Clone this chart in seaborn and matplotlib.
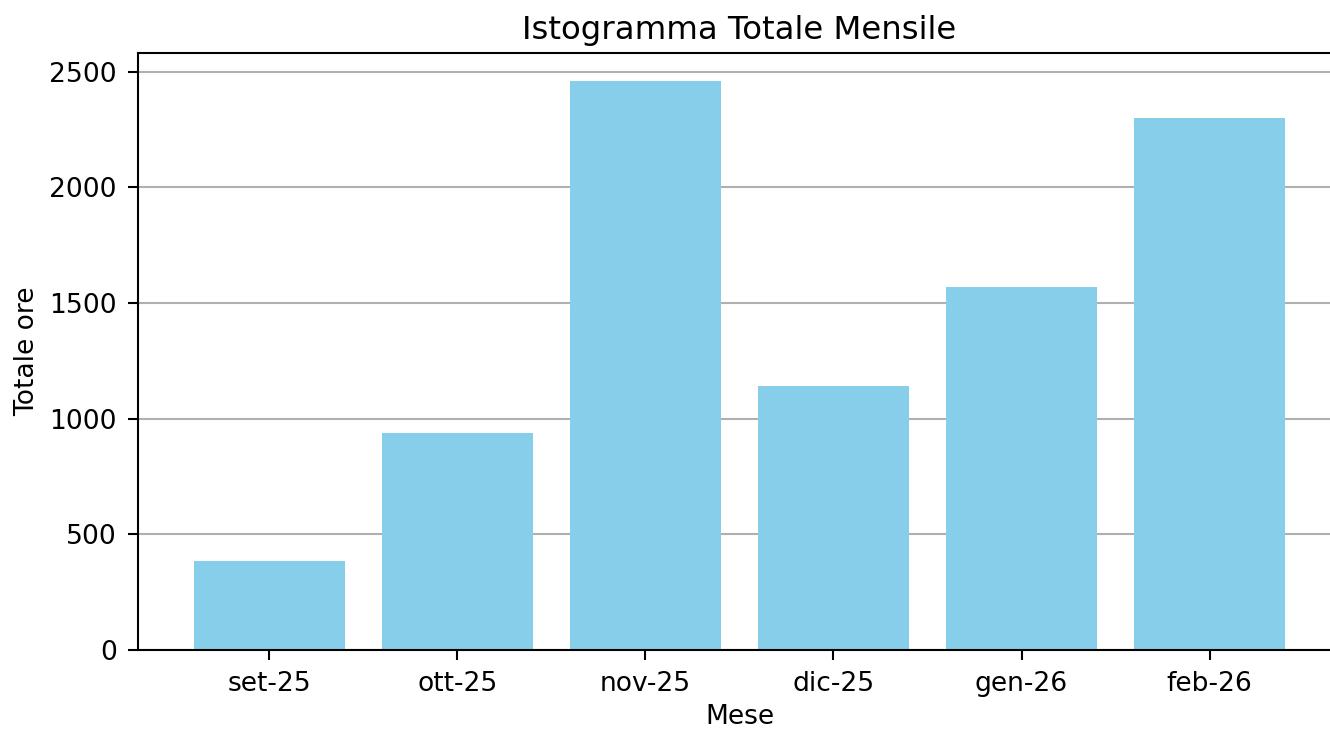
import matplotlib
matplotlib.use("Agg")
import matplotlib.pyplot as plt
import seaborn as sns
import pandas as pd

# dati
mesi = ["set-25", "ott-25", "nov-25", "dic-25", "gen-26", "feb-26"]
totale_ore = [386, 936, 2457, 1140, 1569, 2297]

df = pd.DataFrame({"Mese": mesi, "Totale ore": totale_ore})

sns.set_style("white")
plt.rcParams["font.family"] = ["DejaVu Sans"]
plt.rcParams["text.color"] = "black"
plt.rcParams["axes.labelcolor"] = "black"
plt.rcParams["xtick.color"] = "black"
plt.rcParams["ytick.color"] = "black"

fig, ax = plt.subplots(figsize=(8, 4.391), dpi=166.25)
# l'asse destro esce leggermente dall'immagine, come nel riferimento
fig.subplots_adjust(left=0.104, right=1.008, top=0.9274, bottom=0.1096)

sns.barplot(data=df, x="Mese", y="Totale ore", color="skyblue",
            saturation=1, width=0.8, linewidth=0, ax=ax)

ax.set_xlim(-0.697, len(mesi) - 1 + 0.697)
ax.set_ylim(0, 2580)
ax.set_axisbelow(True)
ax.yaxis.grid(True, color="#b0b0b0", linewidth=0.9)
ax.xaxis.grid(False)

for s in ax.spines.values():
    s.set_visible(True)
    s.set_color("black")
    s.set_linewidth(0.9)

ax.tick_params(axis="both", which="both", direction="out", length=4.3,
               width=0.9, pad=5, color="black", labelcolor="black",
               labelsize=11.5, bottom=True, left=True)
ax.set_title("Istogramma Totale Mensile", fontsize=14, color="black")
ax.set_xlabel("Mese", fontsize=11.5, color="black", labelpad=3)
ax.set_ylabel("Totale ore", fontsize=11.5, color="black")

fig.savefig("out.png", dpi=166.25)
